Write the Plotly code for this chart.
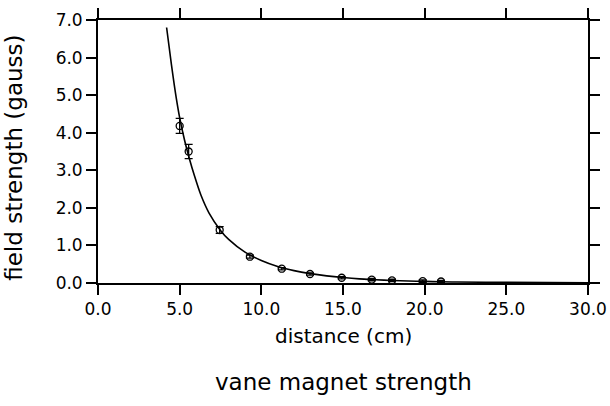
import plotly.graph_objects as go

# measured data points
dist_cm = [5.0, 5.55, 7.45, 9.3, 11.25, 12.98, 14.92, 16.76, 18.0, 19.88, 21.0]
field_gauss = [4.18, 3.5, 1.41, 0.70, 0.38, 0.24, 0.14, 0.09, 0.07, 0.05, 0.04]
field_err = [0.2, 0.19, 0.09, 0.04, 0.03, 0.03, 0.03, 0.03, 0.03, 0.03, 0.03]

# fitted curve
curve_x = [4.2, 4.5, 4.8, 5.0, 5.3, 5.6, 5.9, 6.3, 6.8, 7.5, 8.0, 9.0, 10.0, 11.0,
           12.0, 13.0, 14.0, 15.0, 16.0, 17.0, 18.0, 19.0, 20.0, 21.0, 22.0, 25.0, 30.0]
curve_y = [6.8, 5.8, 4.9, 4.4, 3.8, 3.3, 2.86, 2.34, 1.86, 1.40, 1.16, 0.82, 0.60, 0.44,
           0.33, 0.25, 0.19, 0.145, 0.11, 0.088, 0.068, 0.053, 0.042, 0.033, 0.027, 0.016, 0.008]

x_ticks = [0, 5, 10, 15, 20, 25, 30]
x_labels = ["0.0", "5.0", "10.0", "15.0", "20.0", "25.0", "30.0"]
y_ticks = [0, 1, 2, 3, 4, 5, 6, 7]
y_labels = ["0.0", "1.0", "2.0", "3.0", "4.0", "5.0", "6.0", "7.0"]

x_title = "distance (cm)"
y_title = "field strength (gauss)"
caption = "vane magnet strength"

FONT = "DejaVu Sans"

fig = go.Figure()
fig.add_trace(go.Scatter(x=curve_x, y=curve_y, mode="lines",
                         line=dict(color="black", width=1.6, shape="spline", smoothing=0.8),
                         showlegend=False, hoverinfo="skip"))
fig.add_trace(go.Scatter(x=dist_cm, y=field_gauss, mode="markers",
                         marker=dict(symbol="circle-open", size=7, color="black",
                                     line=dict(width=1.3)),
                         error_y=dict(type="data", array=field_err, visible=True,
                                      color="black", thickness=1.3, width=4),
                         showlegend=False))

axis_common = dict(showgrid=False, zeroline=False, showline=True, linecolor="black",
                   linewidth=1.8, mirror="ticks", ticks="outside", ticklen=10,
                   tickwidth=1.5, tickcolor="black", automargin=False,
                   tickfont=dict(size=17, family=FONT))

fig.update_layout(
    width=610, height=406,
    margin=dict(l=98, r=22, t=20, b=123, autoexpand=False),
    paper_bgcolor="white", plot_bgcolor="white",
    font=dict(family=FONT, color="black", size=16),
    xaxis=dict(range=[0, 30], tickvals=x_ticks, ticktext=x_labels, **axis_common),
    yaxis=dict(range=[0, 7], tickvals=y_ticks, ticktext=y_labels, **axis_common),
    annotations=[
        dict(text=x_title, xref="paper", yref="paper", x=0.502, y=-0.2,
             xanchor="center", yanchor="middle", showarrow=False,
             font=dict(size=20, family=FONT)),
        dict(text=caption, xref="paper", yref="paper", x=0.500, y=-0.375,
             xanchor="center", yanchor="middle", showarrow=False,
             font=dict(size=23, family=FONT)),
        dict(text=y_title, xref="paper", yref="paper", x=-0.172, y=0.475,
             xanchor="center", yanchor="middle", showarrow=False, textangle=-90,
             font=dict(size=23, family=FONT)),
    ],
)

fig.write_html("out.html")
